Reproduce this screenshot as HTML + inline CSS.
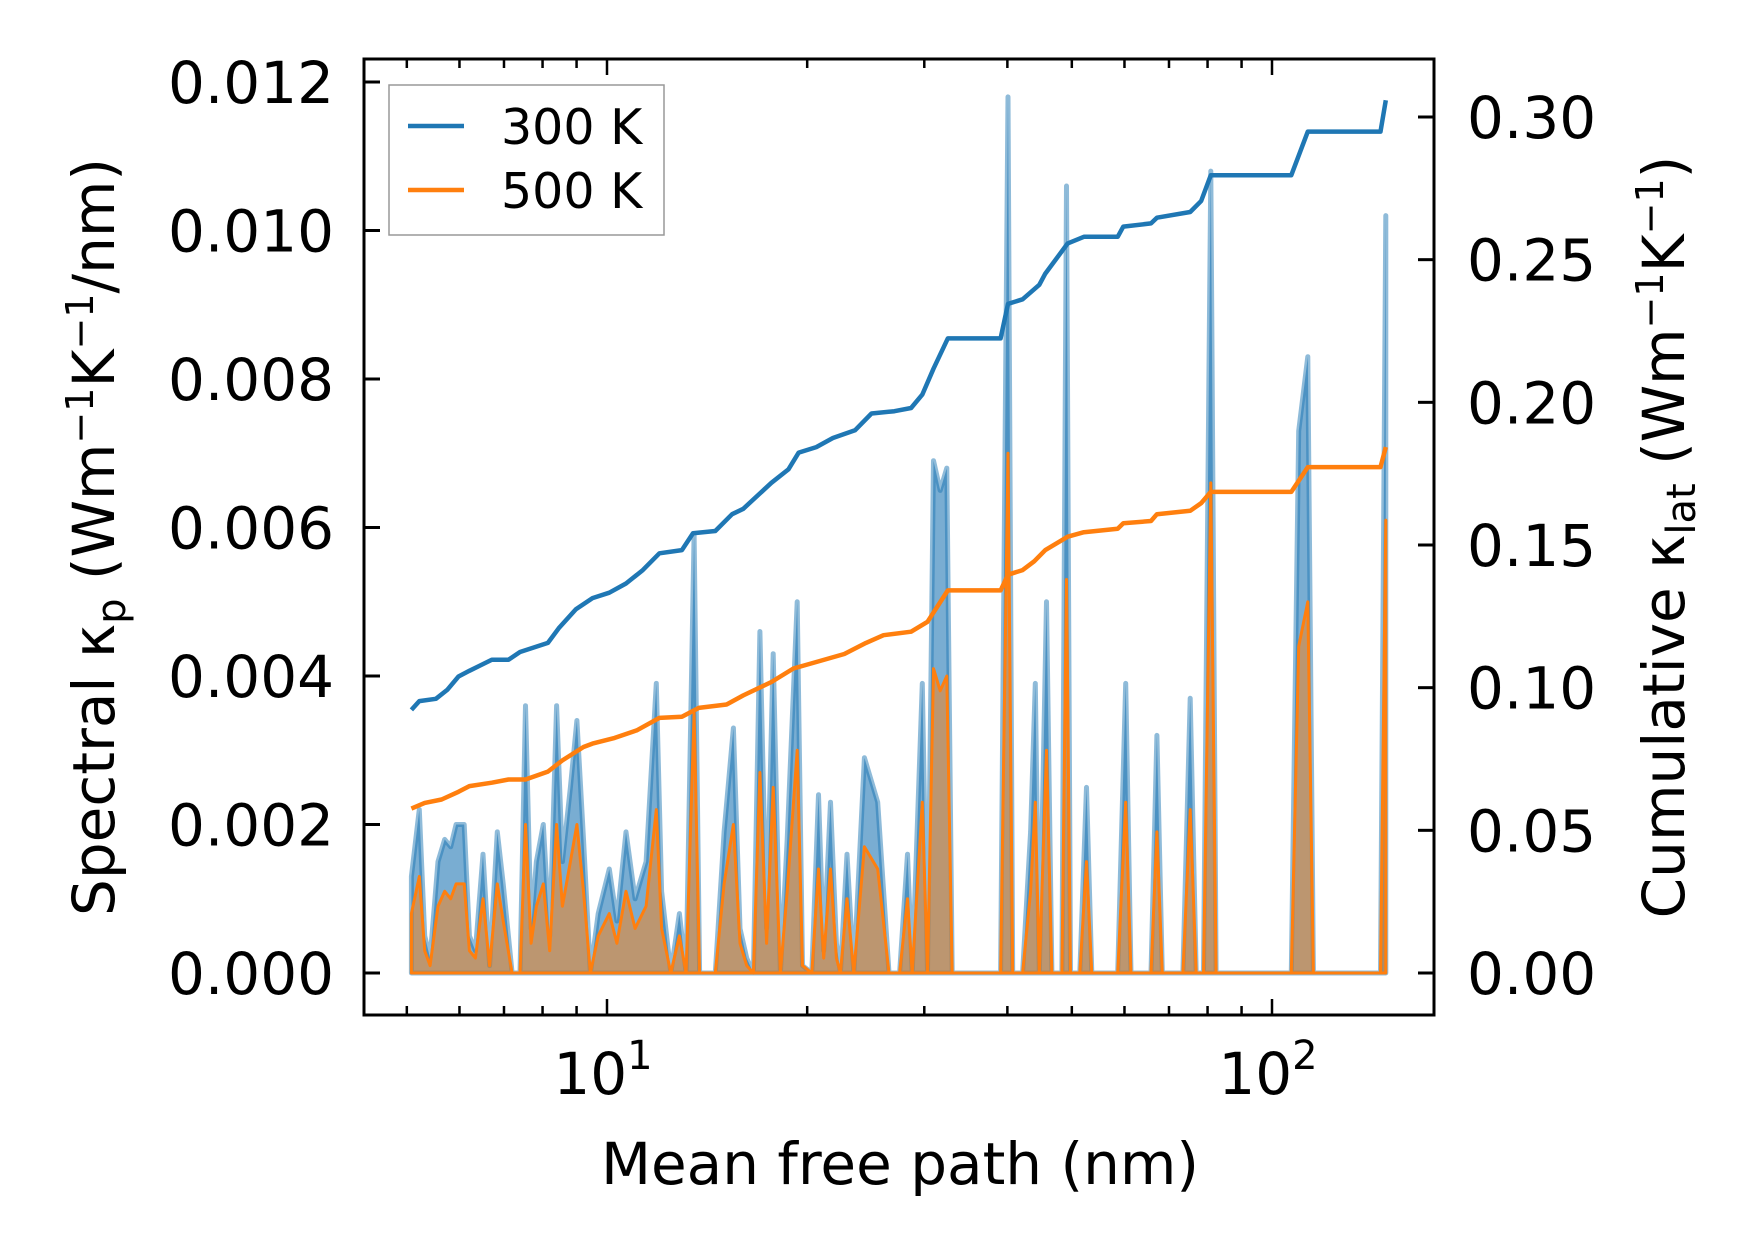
<!DOCTYPE html>
<html><head><meta charset="utf-8"><style>
body{margin:0;background:#fff;}
svg{display:block;font-family:"DejaVu Sans","Liberation Sans",sans-serif;}
</style></head><body>
<svg id="chart" width="1753" height="1254" viewBox="0 0 1753 1254" xmlns="http://www.w3.org/2000/svg">
<rect width="1753" height="1254" fill="#fff"/>
<g id="marks"></g>
<g id="axes"></g>
<g>
<rect x="389" y="85" width="275" height="150" fill="#fff" stroke="#999" stroke-width="1.5"/>
<line x1="408" y1="126" x2="464" y2="126" stroke="#1f77b4" stroke-width="4.5"/>
<text x="501" y="144" font-size="49">300 K</text>
<line x1="408" y1="190" x2="464" y2="190" stroke="#ff7f0e" stroke-width="4.5"/>
<text x="501" y="208" font-size="49">500 K</text>
</g>
<text x="900" y="1184" font-size="58" text-anchor="middle">Mean free path (nm)</text>
<text transform="translate(114,537) rotate(-90)" font-size="58" text-anchor="middle">Spectral κ<tspan font-size="40" dy="11">p</tspan><tspan dy="-11"> (Wm</tspan><tspan font-size="38" dy="-21">−1</tspan><tspan dy="21">K</tspan><tspan font-size="38" dy="-21">−1</tspan><tspan dy="21">/nm)</tspan></text>
<text transform="translate(1684,537) rotate(-90)" font-size="58" text-anchor="middle">Cumulative κ<tspan font-size="40" dy="11">lat</tspan><tspan dy="-11"> (Wm</tspan><tspan font-size="38" dy="-21">−1</tspan><tspan dy="21">K</tspan><tspan font-size="38" dy="-21">−1</tspan><tspan dy="21">)</tspan></text>
</svg>
<script>
const mfp=[5.08,5.22,5.32,5.42,5.57,5.70,5.82,5.93,6.10,6.21,6.34,6.51,6.66,6.84,6.98,7.20,7.40,7.54,7.69,7.83,8.02,8.20,8.40,8.57,8.81,9.01,9.22,9.44,9.70,10.08,10.35,10.68,11.02,11.45,11.86,12.08,12.47,12.85,13.15,13.52,13.78,14.55,15.0,15.49,15.85,16.22,16.60,16.98,17.38,17.78,18.23,18.66,19.32,19.68,20.32,20.80,21.18,21.68,22.13,22.44,22.96,23.50,24.38,25.53,26.55,27.54,28.31,28.77,29.79,30.34,30.97,31.70,32.43,33.04,35.48,39.08,40.09,40.74,42.17,43.35,44.06,44.67,45.81,46.67,48.31,49.09,49.77,51.40,52.60,53.58,58.61,60.26,61.38,65.77,67.14,68.39,73.45,75.34,76.91,78.89,80.91,82.41,106.9,109.7,113.2,115.4,145.6,148.3];
const spec300=[0.0013,0.0022,0.0005,0.0002,0.0015,0.0018,0.0017,0.0020,0.0020,0.0005,0.0003,0.0016,0.0001,0.0019,0.0012,0,0,0.0036,0.0006,0.0015,0.0020,0.0005,0.0036,0.0015,0.0025,0.0034,0.0018,0,0.0008,0.0014,0.0007,0.0019,0.0010,0.0015,0.0039,0.0011,0,0.0008,0,0.0059,0,0,0.0019,0.0033,0.0006,0.0002,0,0.0046,0.0006,0.0043,0,0.0018,0.0050,0.0001,0,0.0024,0.0003,0.0023,0.0004,0,0.0016,0,0.0029,0.0023,0,0,0.0016,0,0.0039,0,0.0069,0.0065,0.0068,0,0,0,0.0118,0,0,0.0019,0.0039,0,0.0050,0,0,0.0106,0,0,0.0025,0,0,0.0039,0,0,0.0032,0,0,0.0037,0,0,0.0108,0,0,0.0073,0.0083,0,0,0.0102];
const spec500=[0.0008,0.0013,0.0003,0.0001,0.0009,0.0011,0.0010,0.0012,0.0012,0.0003,0.0002,0.0010,0.0001,0.0012,0.0007,0,0,0.0020,0.0004,0.0009,0.0012,0.0003,0.0020,0.0009,0.0015,0.0020,0.0011,0,0.0005,0.0008,0.0004,0.0011,0.0006,0.0009,0.0022,0.0006,0,0.0005,0,0.0035,0,0,0.0012,0.0020,0.0004,0.0001,0,0.0027,0.0004,0.0025,0,0.0011,0.0030,0.0001,0,0.0014,0.0002,0.0014,0.0002,0,0.0010,0,0.0017,0.0014,0,0,0.0010,0,0.0023,0,0.0041,0.0038,0.0040,0,0,0,0.0070,0,0,0.0011,0.0023,0,0.0030,0,0,0.0053,0,0,0.0015,0,0,0.0023,0,0,0.0019,0,0,0.0022,0,0,0.0066,0,0,0.0044,0.0050,0,0,0.0061];
const cumX300=[5.08,5.22,5.53,5.75,5.98,6.21,6.45,6.71,7.11,7.40,8.15,8.46,8.98,9.51,10.08,10.68,11.32,11.99,12.96,13.47,14.55,15.42,16.03,17.67,18.74,19.42,20.64,21.86,23.60,24.99,27.05,28.66,29.79,30.97,32.55,39.08,40.09,42.17,44.67,45.61,49.29,52.14,58.61,59.76,65.77,67.14,75.34,78.26,80.91,106.9,113.2,145.6,148.3];
const cum300=[.0922,.0953,.0961,.0992,.1039,.1059,.1078,.1098,.1098,.1125,.1157,.1208,.1275,.1314,.1333,.1365,.1412,.1471,.1482,.1541,.1549,.1608,.1627,.1718,.1765,.1824,.1843,.1875,.1902,.1961,.1969,.1980,.2027,.2118,.2224,.2224,.2345,.2361,.2412,.2451,.2557,.2580,.2580,.2616,.2627,.2647,.2667,.2706,.2796,.2796,.2949,.2949,.3059];
const cumX500=[5.08,5.32,5.64,5.98,6.21,6.71,7.11,7.54,8.15,8.57,9.22,9.51,10.27,11.10,11.99,12.96,13.74,15.13,16.03,17.67,19.07,20.64,22.74,24.52,26.05,28.66,30.34,32.55,39.08,40.09,42.17,43.89,45.61,49.29,52.14,58.61,59.76,65.77,67.14,75.34,78.26,80.91,106.9,113.2,145.6,148.3];
const cum500=[.0576,.0596,.0608,.0635,.0655,.0667,.0678,.0678,.0706,.0745,.0792,.0804,.0824,.0851,.0894,.0898,.0929,.0941,.0973,.1020,.1067,.1090,.1118,.1157,.1184,.1196,.1231,.1341,.1341,.1396,.1412,.1443,.1482,.1529,.1545,.1557,.1576,.1584,.1608,.1620,.1647,.1686,.1686,.1773,.1773,.1843];
const leftTicks=["0.000","0.002","0.004","0.006","0.008","0.010","0.012"];
const rightTicks=["0.00","0.05","0.10","0.15","0.20","0.25","0.30"];
const xMajor=[10,100];

const L=364,R=1434,T=59,B=1015;
const xs=v=>607+665*(Math.log10(v)-1);
const yl=v=>973-v*(973-82)/0.012;
const yr=v=>973-v*(973-117)/0.30;
const NS="http://www.w3.org/2000/svg";
const marks=document.getElementById('marks'),axes=document.getElementById('axes');
function mk(tag,attrs,parent){const e=document.createElementNS(NS,tag);for(const k in attrs)e.setAttribute(k,attrs[k]);parent.appendChild(e);return e;}
function linePath(xa,ya,fy){return xa.map((x,i)=>(i?'L':'M')+xs(x).toFixed(1)+','+fy(ya[i]).toFixed(1)).join('');}
function areaPath(xa,ya){return linePath(xa,ya,yl)+'L'+xs(xa[xa.length-1]).toFixed(1)+','+yl(0)+'L'+xs(xa[0]).toFixed(1)+','+yl(0)+'Z';}

let e;
e=mk('path',{d:areaPath(mfp,spec300),fill:'#1f77b4','fill-opacity':0.6,stroke:'#1f77b4','stroke-opacity':0.5,'stroke-width':5,'stroke-linejoin':'round'},marks);


e=mk('path',{d:areaPath(mfp,spec500),fill:'#ff7f0e','fill-opacity':0.5,stroke:'#ff7f0e','stroke-width':3,'stroke-linejoin':'round'},marks);


e=mk('path',{d:linePath(cumX300,cum300,yr),fill:'none',stroke:'#1f77b4','stroke-width':4.5,'stroke-linejoin':'round'},marks);


e=mk('path',{d:linePath(cumX500,cum500,yr),fill:'none',stroke:'#ff7f0e','stroke-width':4.5,'stroke-linejoin':'round'},marks);



e=mk('rect',{x:L,y:T,width:R-L,height:B-T,fill:'none',stroke:'#000','stroke-width':3},axes);


leftTicks.forEach((t,i)=>{const y=yl(i*0.002);
 e=mk('line',{x1:L,y1:y,x2:L+16,y2:y,stroke:'#000','stroke-width':3},axes);
 
 
 e=mk('text',{x:334,y:y+21,'font-size':58,'text-anchor':'end'},axes);e.textContent=t;
 
 });
rightTicks.forEach((t,i)=>{const y=yr(i*0.05);
 e=mk('line',{x1:R-16,y1:y,x2:R,y2:y,stroke:'#000','stroke-width':3},axes);
 
 
 e=mk('text',{x:1467,y:y+21,'font-size':58},axes);e.textContent=t;
 
 });
for(let d=1;d<=100;d*=10){for(let m=1;m<10;m++){const v=d*m;const x=xs(v);if(x<L||x>R)continue;const len=m===1?16:9;
 e=mk('line',{x1:x,y1:B,x2:x,y2:B-len,stroke:'#000','stroke-width':2.5},axes);
 
 
 e=mk('line',{x1:x,y1:T,x2:x,y2:T+len,stroke:'#000','stroke-width':2.5},axes);
 
 }}
xMajor.forEach(v=>{const x=xs(v);
 e=mk('text',{x:x-4,y:1094,'font-size':58,'text-anchor':'middle'},axes);
 e.innerHTML='10<tspan font-size="40" dy="-25">'+Math.round(Math.log10(v))+'</tspan>';
 
 });
</script>
</body></html>
